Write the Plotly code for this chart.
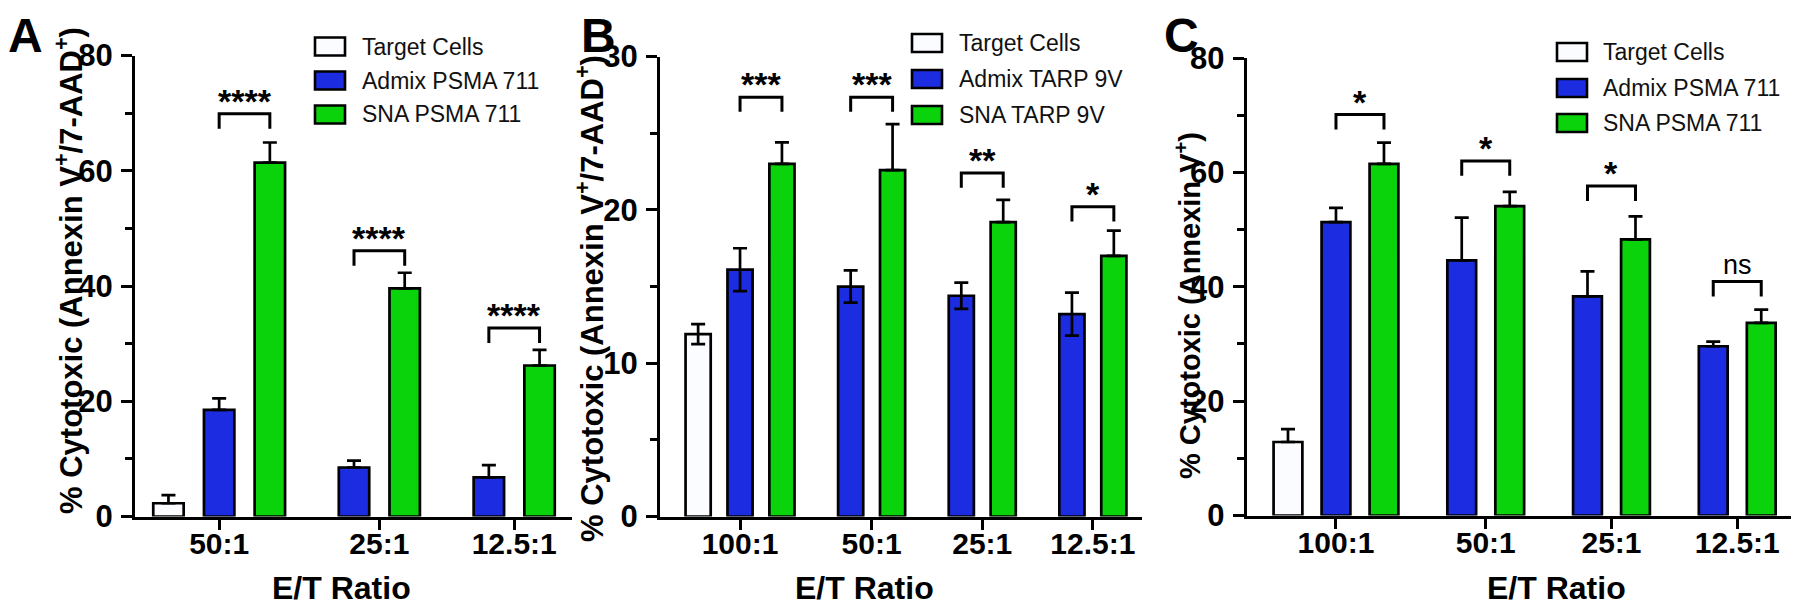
import plotly.graph_objects as go

FONT = "Liberation Sans, Arial, Helvetica, sans-serif"
BLUE = "#1c2ce0"
GREEN = "#0bd30b"
WHITE = "#fbfcff"

# ---------------- data ----------------
# Panel A
A_categories = ["50:1", "25:1", "12.5:1"]
A_names = ["Target Cells", "Admix PSMA 711", "SNA PSMA 711"]
A_target = [2.3, None, None]
A_target_sd = [1.4, None, None]
A_admix = [18.5, 8.5, 6.8]
A_admix_sd = [2.0, 1.2, 2.1]
A_sna = [61.4, 39.6, 26.2]
A_sna_sd = [3.5, 2.7, 2.7]
A_sig = ["****", "****", "****"]
A_bracket = [69.9, 46.1, 32.7]
A_yticks = [0, 20, 40, 60, 80]

# Panel B
B_categories = ["100:1", "50:1", "25:1", "12.5:1"]
B_names = ["Target Cells", "Admix TARP 9V", "SNA TARP 9V"]
B_target = [11.9, None, None, None]
B_target_sd = [0.65, None, None, None]
B_admix = [16.1, 15.0, 14.4, 13.2]
B_admix_sd = [1.4, 1.05, 0.85, 1.4]
B_sna = [23.0, 22.6, 19.2, 17.0]
B_sna_sd = [1.4, 3.0, 1.45, 1.65]
B_sig = ["***", "***", "**", "*"]
B_bracket = [27.35, 27.35, 22.4, 20.2]
B_yticks = [0, 10, 20, 30]

# Panel C
C_categories = ["100:1", "50:1", "25:1", "12.5:1"]
C_names = ["Target Cells", "Admix PSMA 711", "SNA PSMA 711"]
C_target = [12.85, None, None, None]
C_target_sd = [2.25, None, None, None]
C_admix = [51.3, 44.6, 38.3, 29.6]
C_admix_sd = [2.5, 7.5, 4.4, 0.8]
C_sna = [61.5, 54.1, 48.3, 33.7]
C_sna_sd = [3.7, 2.5, 4.0, 2.3]
C_sig = ["*", "*", "*", "ns"]
C_bracket = [70.1, 62.0, 57.6, 40.9]
C_yticks = [0, 20, 40, 60, 80]

# page geometry: the html body keeps an 8px margin, so the figure is made
# slightly smaller and reference pixel positions are converted accordingly
OFF = 8
FW, FH = 1800 - OFF, 605 - OFF


def fx(x):
    return (x - OFF) / FW


def fy(y):
    return 1 - (y - OFF) / FH


def slot_positions(series_list, gap):
    """GraphPad-style layout: bars placed one slot apart, groups separated by a gap."""
    n_groups = len(series_list[0])
    pos = [[None] * n_groups for _ in series_list]
    centers = []
    cursor = 0.0
    for g in range(n_groups):
        xs = []
        for s, vals in enumerate(series_list):
            if vals[g] is not None:
                pos[s][g] = cursor
                xs.append(cursor)
                cursor += 1
        centers.append(sum(xs) / len(xs))
        cursor += gap
    return pos, centers


fig = go.Figure()

panels = [
    dict(key="", cats=A_categories, names=A_names,
         series=[(A_target, A_target_sd), (A_admix, A_admix_sd), (A_sna, A_sna_sd)],
         both=[False, False, False], sig=A_sig, bracket=A_bracket, yticks=A_yticks,
         ymax=80, minor=10, gap=0.66, pad=(0.66, 0.64), leg=2.6,
         xdom=(fx(135), fx(572)), ydom=(fy(516.5), fy(55.5)),
         sigsize=[34, 34, 34]),
    dict(key="2", cats=B_categories, names=B_names,
         series=[(B_target, B_target_sd), (B_admix, B_admix_sd), (B_sna, B_sna_sd)],
         both=[True, True, False], sig=B_sig, bracket=B_bracket, yticks=B_yticks,
         ymax=30, minor=5, gap=0.64, pad=(0.91, 0.66), leg=0.95,
         xdom=(fx(660), fx(1141.5)), ydom=(fy(516.5), fy(56.6)),
         sigsize=[34, 34, 34, 34]),
    dict(key="3", cats=C_categories, names=C_names,
         series=[(C_target, C_target_sd), (C_admix, C_admix_sd), (C_sna, C_sna_sd)],
         both=[False, False, False], sig=C_sig, bracket=C_bracket, yticks=C_yticks,
         ymax=80, minor=10, gap=0.62, pad=(0.86, 0.62), leg=2.6,
         xdom=(fx(1246.7), fx(1791)), ydom=(fy(515.5), fy(58)),
         sigsize=[34, 34, 34, 27]),
]

colors = [WHITE, BLUE, GREEN]
shapes = []
annotations = []

for p in panels:
    vals_only = [s[0] for s in p["series"]]
    pos, centers = slot_positions(vals_only, p["gap"])
    xref = "x" + p["key"]
    yref = "y" + p["key"]
    for s, ((vals, sd), name) in enumerate(zip(p["series"], p["names"])):
        xs = [pos[s][g] for g in range(len(vals)) if vals[g] is not None]
        ys = [vals[g] for g in range(len(vals)) if vals[g] is not None]
        es = [sd[g] for g in range(len(vals)) if vals[g] is not None]
        em = es if p["both"][s] else [0] * len(es)
        fig.add_trace(go.Bar(
            x=xs, y=ys, name=name, width=0.6, showlegend=False,
            xaxis=xref, yaxis=yref,
            marker=dict(color=colors[s], line=dict(color="black", width=2.7)),
            error_y=dict(type="data", symmetric=False, array=es, arrayminus=em,
                         color="black", thickness=2.7, width=7),
        ))
    # significance brackets
    for g, (yb, txt) in enumerate(zip(p["bracket"], p["sig"])):
        x1, x2 = pos[1][g], pos[2][g]
        leg = p["leg"]
        shapes.append(dict(
            type="path", xref=xref, yref=yref,
            path=f"M {x1},{yb - leg} L {x1},{yb} L {x2},{yb} L {x2},{yb - leg}",
            line=dict(color="black", width=3),
        ))
        annotations.append(dict(
            x=(x1 + x2) / 2, y=yb, xref=xref, yref=yref, text=txt,
            showarrow=False, yanchor="bottom", yshift=0 if txt == "ns" else -8,
            font=dict(family=FONT, size=p["sigsize"][g], color="black",
                      weight="normal" if txt == "ns" else "bold"),
        ))
    last = pos[2][-1]
    axis_common = dict(showline=True, linewidth=3, linecolor="black", mirror=False,
                       showgrid=False, zeroline=False, ticks="outside",
                       tickwidth=3, tickcolor="black", automargin=False)
    fig.layout["xaxis" + p["key"]] = dict(
        axis_common, domain=list(p["xdom"]), anchor=yref,
        range=[-p["pad"][0], last + p["pad"][1]],
        tickmode="array", tickvals=centers, ticktext=p["cats"], ticklen=10,
        ticklabelstandoff=-12,
        tickfont=dict(family=FONT, size=30, color="black", weight="bold"),
    )
    fig.layout["yaxis" + p["key"]] = dict(
        axis_common, domain=list(p["ydom"]), anchor=xref,
        range=[0, p["ymax"]], tickmode="array", tickvals=p["yticks"], ticklen=11,
        ticklabelstandoff=2,
        minor=dict(dtick=p["minor"], ticks="outside", ticklen=7, tickwidth=3,
                   tickcolor="black", showgrid=False),
        tickfont=dict(family=FONT, size=31, color="black", weight="bold"),
    )

# axis titles, panel letters and legends
ytitles = [
    ("% Cytotoxic (Annexin V<sup>+</sup>/7-AAD<sup>+</sup>)", 69, 271, 31),
    ("% Cytotoxic (Annexin V<sup>+</sup>/7-AAD<sup>+</sup>)", 590, 299, 31),
    ("% Cytotoxic (Annexin V<sup>+</sup>)", 1188, 306, 29),
]
for txt, px, py, fs in ytitles:
    annotations.append(dict(x=fx(px), y=fy(py), xref="paper", yref="paper",
                            text=txt, textangle=-90, showarrow=False,
                            xanchor="center", yanchor="middle",
                            font=dict(family=FONT, size=fs, color="black", weight="bold")))
for px in (341, 864, 1556):
    annotations.append(dict(x=fx(px), y=fy(588), xref="paper", yref="paper",
                            text="E/T Ratio", showarrow=False,
                            xanchor="center", yanchor="middle",
                            font=dict(family=FONT, size=32, color="black", weight="bold")))
for letter, px in (("A", 25), ("B", 598), ("C", 1181)):
    annotations.append(dict(x=fx(px), y=1, xref="paper", yref="paper",
                            text=letter, showarrow=False,
                            xanchor="center", yanchor="top", borderpad=0,
                            font=dict(family=FONT, size=48, color="black", weight="bold")))

legend_specs = [
    (A_names, 315, 360, [46.5, 80.5, 114.5]),
    (B_names, 912, 957, [43, 79, 115]),
    (C_names, 1557, 1601, [52, 88, 123]),
]
for names, bx, tx, rows in legend_specs:
    for name, col, ry in zip(names, colors, rows):
        shapes.append(dict(type="rect", xref="paper", yref="paper",
                           x0=fx(bx), x1=fx(bx + 30),
                           y0=fy(ry + 9), y1=fy(ry - 9),
                           fillcolor=col, line=dict(color="black", width=2.6)))
        annotations.append(dict(x=fx(tx), y=fy(ry), xref="paper", yref="paper",
                                text=name, showarrow=False, xanchor="left", yanchor="middle",
                                font=dict(family=FONT, size=23, color="#111111")))

fig.update_layout(
    width=FW, height=FH, autosize=False,
    margin=dict(l=0, r=0, t=0, b=0),
    paper_bgcolor="white", plot_bgcolor="white",
    barmode="overlay", showlegend=False,
    shapes=shapes, annotations=annotations,
    font=dict(family=FONT, color="black"),
)

fig.write_html("out.html")
